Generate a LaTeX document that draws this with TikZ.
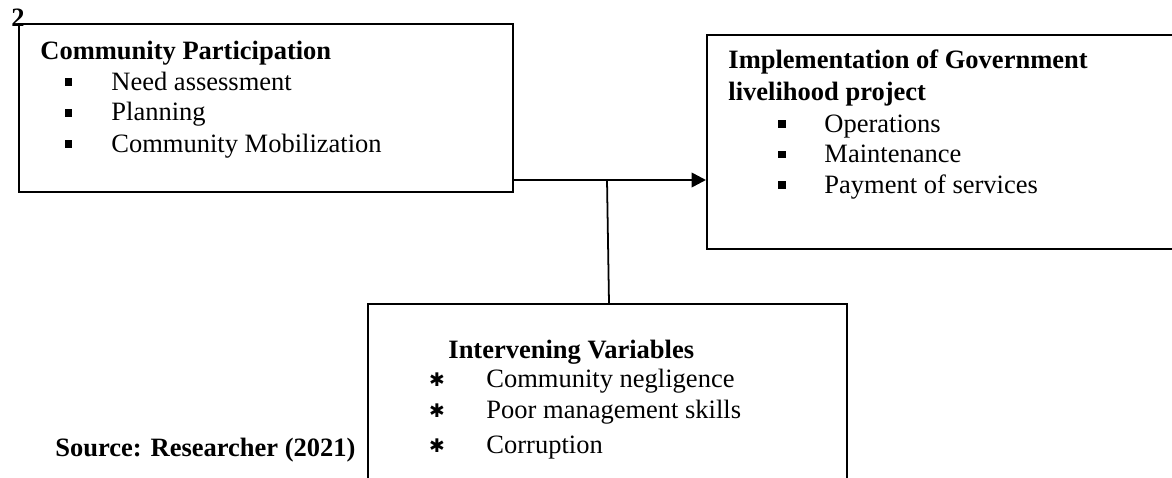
\documentclass[tikz,border=0pt]{standalone}
\usepackage{fontspec}
\setmainfont{Liberation Serif}
\newfontfamily\symfont{DejaVu Sans}
\usetikzlibrary{arrows.meta,fit}
\begin{document}
\begin{tikzpicture}[x=0.4528pt,y=-0.4528pt,
  box/.style={draw, line width=0.9pt, rectangle, inner sep=0pt},
  txt/.style={anchor=base west, inner sep=0pt, font=\fontsize{12}{14}\selectfont},
  head/.style={anchor=base west, inner sep=0pt, font=\fontsize{12}{14}\selectfont\bfseries},
  sq/.style={fill=black, draw=none, rectangle, minimum size=3.2pt, inner sep=0pt},
  star/.style={inner sep=0pt, font=\symfont\fontsize{8.5}{9}\selectfont},
  conn/.style={line width=1.15pt},
  thin/.style={line width=0.8pt},
]
\useasboundingbox (0,0) rectangle (1172,477);
\clip (0,0) rectangle (1172,477);

% boxes
\node[box, fit={(19,24)(513,192)}] (cp) {};
\node[box, fit={(707,35)(1182,249)}] (impl) {};
\node[box, fit={(368,304)(847,505)}] (iv) {};

% label 2
\node[head] (num) at (11,27) {2};

% Community Participation
\node[head] (cph) at (40,60) {Community Participation};
\node[sq] (cpb1) at (68.5,82) {};
\node[sq] (cpb2) at (68.5,113) {};
\node[sq] (cpb3) at (68.5,144) {};
\node[txt] (cp1) at (111,90) {Need assessment};
\node[txt] (cp2) at (111,121) {Planning};
\node[txt] (cp3) at (111,152) {Community Mobilization};

% Implementation
\node[head] (imh1) at (728,69) {Implementation of Government};
\node[head] (imh2) at (728,101) {livelihood project};
\node[sq] (imb1) at (782,124) {};
\node[sq] (imb2) at (782,154.5) {};
\node[sq] (imb3) at (782,185) {};
\node[txt] (im1) at (824,132) {Operations};
\node[txt] (im2) at (824,162.5) {Maintenance};
\node[txt] (im3) at (824,193) {Payment of services};

% Intervening variables
\node[head] (ivh) at (448,358) {Intervening Variables};
\node[star] (ivs1) at (437,380) {✱};
\node[star] (ivs2) at (437,411) {✱};
\node[star] (ivs3) at (437,446) {✱};
\node[txt] (iv1) at (486,387) {Community negligence};
\node[txt] (iv2) at (486,418) {Poor management skills};
\node[txt] (iv3) at (486,453) {Corruption};

% source
\node[head] (src) at (55,456) {Source: Researcher (2021)};

% connectors
\coordinate (j) at (607,180);
\draw[conn,-{Triangle[length=6.5pt,width=6.5pt]}] (cp.east |- j) -- (impl.west |- j);
\draw[thin] (j) -- ([xshift=0.9pt]j |- iv.north);
\end{tikzpicture}
\end{document}
